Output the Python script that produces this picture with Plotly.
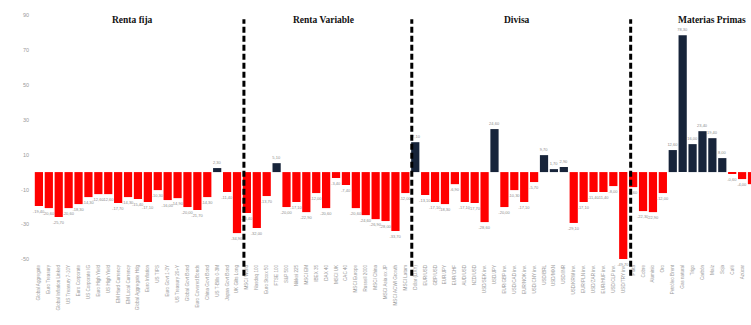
import plotly.graph_objects as go

# Rentabilidad por activo (%), agrupada por clase de activo
renta_fija = [
    "Global Aggregate", "Euro Treasury", "Global Inflation Linked", "US Treasury 7-10Y",
    "Euro Corporate", "US Corporate IG", "Euro High Yield", "US High Yield",
    "EM Hard Currency", "EM Local Currency", "Global Aggregate Hdg", "Euro Inflation",
    "US TIPS", "Euro Govt 1-3Y", "US Treasury 20+Y", "Global Govt Bond",
    "Euro Covered Bonds", "China Govt Bond", "US T-Bills 0-3M", "Japan Govt Bond",
    "UK Gilts Long",
]
renta_fija_val = [
    -19.4, -20.6, -25.7, -20.6, -18.3, -14.3, -12.6, -12.6, -17.7, -14.3, -15.4,
    -17.1, -10.3, -16.0, -14.9, -20.0, -21.7, -14.3, 2.3, -11.4, -34.9,
]

renta_variable = [
    "MSCI World", "Nasdaq 100", "Euro Stoxx 50", "FTSE 100", "S&P 500", "Nikkei 225",
    "MSCI EM", "IBEX 35", "DAX 40", "MSCI UK", "CAC 40", "MSCI Europe",
    "Russell 2000", "MSCI China", "MSCI Asia ex JP", "MSCI ACWI Growth", "MSCI Latam",
]
renta_variable_val = [
    -23.4, -32.0, -13.7, 5.1, -20.0, -17.1, -22.9, -12.0, -20.6, -3.4, -7.4,
    -20.6, -24.6, -26.9, -28.0, -33.7, -12.0,
]

divisa = [
    "Dólar (DXY)", "EUR/USD", "GBP/USD", "EUR/JPY", "EUR/CHF", "AUD/USD", "NZD/USD",
    "USD/SEK inv.", "USD/JPY", "EUR/GBP inv.", "USD/CAD inv.", "EUR/NOK inv.",
    "USD/CNY inv.", "USD/BRL", "USD/MXN", "USD/INR", "USD/KRW inv.", "EUR/PLN inv.",
    "USD/ZAR inv.", "EUR/HUF inv.", "USD/CLP inv.", "USD/TRY inv.",
]
divisa_val = [
    17.1, -13.1, -17.1, -18.3, -6.9, -17.1, -17.7, -28.6, 24.6, -20.0, -10.3,
    -17.1, -5.7, 9.7, 1.7, 2.9, -29.1, -17.1, -11.4, -11.4, -8.0, -49.7,
]

materias_primas = [
    "Plata", "Cobre", "Aluminio", "Oro", "Petróleo Brent", "Gas natural", "Trigo",
    "Carbón", "Maíz", "Soja", "Café", "Azúcar", "Zinc",
]
materias_primas_val = [
    -8.6, -22.3, -22.9, -12.0, 12.6, 78.3, 16.0, 23.4, 19.4, 8.0, -0.6, -4.0, -6.9,
]

secciones = ["Renta fija", "Renta Variable", "Divisa", "Materias Primas"]
y_ticks = [-50, -30, -10, 10, 30, 50, 70, 90]

categorias = renta_fija + renta_variable + divisa + materias_primas
valores = renta_fija_val + renta_variable_val + divisa_val + materias_primas_val

ROJO = "#FF0000"
AZUL = "#17243A"
colores = [AZUL if v >= 0 else ROJO for v in valores]

fig = go.Figure(
    go.Bar(
        x=list(range(len(categorias))),
        y=valores,
        marker=dict(color=colores, line=dict(width=0)),
        texttemplate="%{y:.2f}",
        textposition="outside",
        constraintext="none",
        cliponaxis=False,
        textfont=dict(family="Liberation Sans", size=4, color="#8c8c8c"),
        hoverinfo="skip",
    )
)

# Separadores verticales entre clases de activo
n_rf = len(renta_fija)
n_rv = len(renta_variable)
n_dv = len(divisa)
limites = [n_rf - 0.3, n_rf + n_rv - 0.35, n_rf + n_rv + n_dv - 0.25]
for xl in limites:
    fig.add_shape(
        type="line", xref="x", yref="paper", x0=xl, x1=xl, y0=-0.05, y1=0.948,
        line=dict(color="black", width=3, dash="6px,3px"),
    )

# Títulos de cada bloque
pos_titulos = [9.4, 28.7, 48.3, 68.0]
for nombre, xt in zip(secciones, pos_titulos):
    fig.add_annotation(
        x=xt, y=0.945, xref="x", yref="paper", text="<b>%s</b>" % nombre,
        showarrow=False, xanchor="center", yanchor="middle",
        font=dict(family="Liberation Serif", size=9.5, color="#111111"),
    )

fig.update_layout(
    width=751,
    height=325,
    margin=dict(l=30, r=0, t=6, b=62),
    paper_bgcolor="white",
    plot_bgcolor="white",
    separators=",.",
    bargap=0.17,
    showlegend=False,
    xaxis=dict(
        range=[-0.9, 71.9],
        tickmode="array",
        tickvals=list(range(len(categorias))),
        ticktext=categorias,
        tickangle=-90,
        tickfont=dict(family="Liberation Sans", size=4.6, color="#9a9a9a"),
        showgrid=False,
        zeroline=False,
        showline=False,
        ticks="",
        automargin=False,
    ),
    yaxis=dict(
        range=[-52, 95],
        tickmode="array",
        tickvals=y_ticks,
        ticktext=[str(t) for t in y_ticks],
        tickfont=dict(family="Liberation Sans", size=5.5, color="#9a9a9a"),
        showgrid=False,
        zeroline=False,
        showline=False,
        ticks="",
        automargin=False,
    ),
)

fig.write_html("out.html")
